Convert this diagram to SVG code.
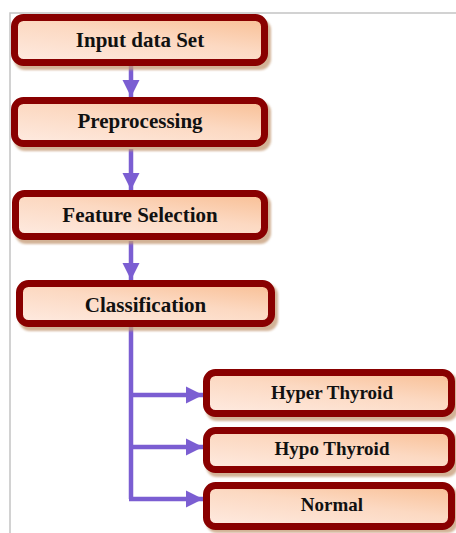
<svg xmlns="http://www.w3.org/2000/svg" width="456" height="533" viewBox="0 0 456 533">
  <defs>
    <linearGradient id="peach" x1="0.15" y1="1" x2="0.85" y2="0">
      <stop offset="0" stop-color="#fee9de"/>
      <stop offset="0.55" stop-color="#fcd9c2"/>
      <stop offset="1" stop-color="#f9c29a"/>
    </linearGradient>
    <filter id="sh" x="-10%" y="-20%" width="120%" height="150%">
      <feGaussianBlur stdDeviation="1.2"/>
    </filter>
    <marker id="ah" viewBox="0 0 10 10" refX="10" refY="5" markerWidth="3.8" markerHeight="3.8" markerUnits="strokeWidth" orient="auto">
      <path d="M0,0 L10,5 L0,10 Z" fill="#7b5ed2"/>
    </marker>
  </defs>
  <style>
    .frame { stroke: #c4c4c4; stroke-width: 1.5; fill: none; }
    .shadow { fill: #c49a74; opacity: 0.75; filter: url(#sh); }
    .box { fill: url(#peach); stroke: #890000; stroke-width: 7; }
    .lbl { font-family: "Liberation Serif", "Times New Roman", serif; font-weight: bold; fill: #111111; text-anchor: middle; }
    .main { font-size: 21px; }
    .out { font-size: 19px; }
    .con { stroke: #7b5ed2; stroke-width: 4.5; fill: none; }
  </style>

  <rect width="456" height="533" fill="#ffffff"/>
  <path class="frame" d="M10,533 V13 H456"/>

  <g id="connectors">
    <line class="con" x1="131" y1="66" x2="131" y2="97" marker-end="url(#ah)"/>
    <line class="con" x1="131" y1="149" x2="131" y2="190" marker-end="url(#ah)"/>
    <line class="con" x1="131" y1="241" x2="131" y2="280" marker-end="url(#ah)"/>
    <path class="con" d="M131,327 V499" stroke-linejoin="round"/>
    <line class="con" x1="129" y1="395" x2="203" y2="395" marker-end="url(#ah)"/>
    <line class="con" x1="129" y1="447" x2="203" y2="447" marker-end="url(#ah)"/>
    <line class="con" x1="129" y1="499" x2="203" y2="499" marker-end="url(#ah)"/>
  </g>

  <g id="input">
    <rect class="shadow" x="14" y="19" width="257" height="51" rx="11"/>
    <rect class="box" x="14.5" y="17.5" width="250" height="45" rx="9"/>
    <text class="lbl main" x="140" y="47">Input data Set</text>
  </g>

  <g id="preprocessing">
    <rect class="shadow" x="14" y="101" width="257" height="50" rx="11"/>
    <rect class="box" x="14.5" y="100.5" width="250" height="43" rx="9"/>
    <text class="lbl main" x="140" y="128">Preprocessing</text>
  </g>

  <g id="feature">
    <rect class="shadow" x="15" y="194" width="256" height="50" rx="11"/>
    <rect class="box" x="15.5" y="193.5" width="249" height="43" rx="9"/>
    <text class="lbl main" x="140" y="222">Feature Selection</text>
  </g>

  <g id="classification">
    <rect class="shadow" x="19" y="284" width="259" height="47" rx="11"/>
    <rect class="box" x="19.5" y="283.5" width="252" height="40" rx="9"/>
    <text class="lbl main" x="145.5" y="312">Classification</text>
  </g>

  <g id="hyper">
    <rect class="shadow" x="206" y="373" width="252" height="48" rx="11"/>
    <rect class="box" x="206.5" y="372.5" width="245" height="41" rx="9"/>
    <text class="lbl out" x="332" y="398.5">Hyper Thyroid</text>
  </g>

  <g id="hypo">
    <rect class="shadow" x="206" y="431" width="252" height="46" rx="11"/>
    <rect class="box" x="206.5" y="430.5" width="245" height="39" rx="9"/>
    <text class="lbl out" x="332" y="455">Hypo Thyroid</text>
  </g>

  <g id="normal">
    <rect class="shadow" x="206" y="486" width="252" height="47" rx="11"/>
    <rect class="box" x="206.5" y="485.5" width="245" height="41" rx="9"/>
    <text class="lbl out" x="332" y="511">Normal</text>
  </g>
</svg>
